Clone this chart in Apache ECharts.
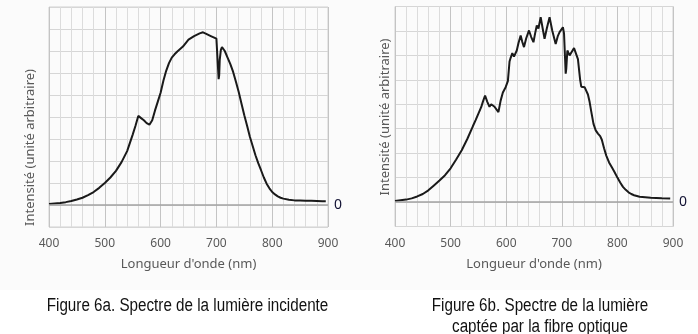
<!DOCTYPE html>
<html>
<head>
<meta charset="utf-8">
<script src="https://cdn.jsdelivr.net/npm/echarts@6/dist/echarts.min.js"></script>
<style>
  html, body { margin: 0; padding: 0; background: #ffffff; }
  #chart { width: 698px; height: 334px; }
</style>
</head>
<body>
<div id="chart"></div>
<script>
// Figure 6a: incident light spectrum (wavelength in nm, arbitrary intensity)
const waveA = [400, 410, 420, 430, 440, 450, 460, 470, 480, 490, 500, 510, 520, 530, 540, 550, 555, 560, 565, 570, 575, 580, 585, 590, 595, 600, 605, 610, 615, 620, 625, 630, 640, 650, 660, 670, 676, 680, 690, 700, 703, 704, 705, 706, 708, 710, 715, 720, 725, 730, 735, 740, 745, 750, 755, 760, 765, 770, 775, 780, 785, 790, 795, 800, 805, 810, 815, 820, 830, 840, 850, 860, 870, 880, 890, 896];
const intensA = [0.05, 0.07, 0.09, 0.13, 0.18, 0.25, 0.33, 0.45, 0.59, 0.78, 1.0, 1.25, 1.55, 1.95, 2.45, 3.2, 3.6, 4.05, 3.95, 3.85, 3.72, 3.65, 3.85, 4.3, 4.7, 5.1, 5.65, 6.1, 6.45, 6.7, 6.85, 6.98, 7.2, 7.52, 7.68, 7.8, 7.85, 7.8, 7.68, 7.56, 7.5, 5.72, 5.9, 6.6, 7.05, 7.18, 7.0, 6.7, 6.4, 6.05, 5.6, 5.14, 4.6, 4.08, 3.6, 3.1, 2.68, 2.26, 1.9, 1.58, 1.25, 0.97, 0.76, 0.59, 0.48, 0.39, 0.33, 0.29, 0.24, 0.21, 0.2, 0.19, 0.19, 0.18, 0.17, 0.17];

// Figure 6b: spectrum collected by the optical fibre
const waveB = [400, 410, 420, 430, 440, 450, 460, 470, 480, 490, 500, 510, 520, 530, 540, 545, 550, 555, 558, 562, 566, 570, 573, 576, 579, 582, 586, 590, 594, 599, 603, 606, 608, 611, 614, 616, 619, 622, 626, 629, 632, 636, 641, 645, 649, 652, 655, 658, 662, 666, 669, 673, 678, 683, 689, 693, 696, 699, 702, 704, 706, 707, 708, 710, 712, 714, 718, 722, 725, 729, 733, 735, 738, 741, 744, 747, 750, 753, 757, 761, 765, 769, 772, 776, 780, 785, 790, 795, 800, 805, 810, 815, 820, 825, 830, 840, 850, 860, 870, 880, 895];
const intensB = [0.04, 0.07, 0.1, 0.15, 0.23, 0.33, 0.48, 0.68, 0.88, 1.1, 1.38, 1.74, 2.12, 2.58, 3.1, 3.35, 3.62, 3.88, 4.1, 4.36, 4.1, 3.9, 4.0, 4.03, 3.9, 3.82, 3.68, 4.15, 4.48, 4.7, 4.95, 5.75, 5.9, 6.09, 5.95, 5.93, 6.2, 6.5, 6.81, 6.55, 6.34, 6.7, 7.02, 6.75, 6.54, 6.9, 7.22, 7.1, 7.56, 7.05, 6.68, 7.1, 7.56, 7.0, 6.47, 6.8, 6.95, 6.9, 7.15, 6.9, 5.8, 5.25, 5.45, 6.2, 6.1, 6.0, 6.15, 6.3, 6.34, 5.85, 5.0, 4.72, 4.68, 4.7, 4.62, 4.4, 4.1, 3.7, 3.2, 2.93, 2.8, 2.7, 2.55, 2.2, 1.9, 1.62, 1.42, 1.22, 1.0, 0.8, 0.62, 0.5, 0.4, 0.33, 0.28, 0.22, 0.2, 0.18, 0.17, 0.16, 0.15];

const xTicks = [400, 500, 600, 700, 800, 900];
const xTitle = "Longueur d'onde (nm)";
const yTitle = 'Intensité (unité arbitraire)';
const captionA = 'Figure 6a. Spectre de la lumière incidente';
const captionB = ['Figure 6b. Spectre de la lumière', 'captée par la fibre optique'];

const zip = (xs, ys) => xs.map((x, i) => [x, ys[i]]);

const labelFont = 'Noto Sans';
const axisGray = '#595959';
const captionFont = '18px "Liberation Sans", Arial, sans-serif';
const captionSquash = 0.845;

// Grid every 20 nm; every fifth line (the 100 nm ones) a shade darker and labelled.
function xAxisFor(gridIndex) {
  return {
    type: 'value', gridIndex, min: xTicks[0], max: xTicks[xTicks.length - 1], interval: 20,
    name: xTitle, nameLocation: 'middle', nameGap: 31,
    nameTextStyle: { color: axisGray, fontFamily: labelFont, fontSize: 13 },
    axisLine: { show: false }, axisTick: { show: false },
    axisLabel: {
      color: axisGray, fontFamily: labelFont, fontSize: 12, margin: 11, hideOverlap: false,
      formatter: v => (xTicks.includes(v) ? String(v) : '')
    },
    splitLine: { show: true, lineStyle: { color: ['#c4c4c4', '#dcdcdc', '#dcdcdc', '#dcdcdc', '#dcdcdc'], width: 1 } }
  };
}

function yAxisFor(gridIndex, max) {
  return {
    type: 'value', gridIndex, min: -1, max, interval: 1,
    axisLine: { show: false }, axisTick: { show: false }, axisLabel: { show: false },
    splitLine: { show: true, lineStyle: { color: '#d6d6d6', width: 1 } }
  };
}

function spectrum(idx, data) {
  return {
    type: 'line', xAxisIndex: idx, yAxisIndex: idx, data,
    showSymbol: false, smooth: false, animation: false,
    lineStyle: { color: '#1a1a1a', width: 2 },
    markLine: {
      silent: true, symbol: 'none', animation: false,
      lineStyle: { color: '#a3a3a3', width: 1.5, type: 'solid' },
      label: { show: true, position: 'end', formatter: '0', color: '#111133', fontFamily: labelFont, fontSize: 14, distance: 6 },
      data: [{ yAxis: 0 }]
    }
  };
}

function caption(text, x, y) {
  return { type: 'text', x, y, scaleX: captionSquash, silent: true,
    style: { text, fill: '#111111', font: captionFont, align: 'center', verticalAlign: 'middle' } };
}

const chart = echarts.init(document.getElementById('chart'), null, { renderer: 'canvas' });
chart.setOption({
  backgroundColor: '#ffffff',
  animation: false,
  grid: [
    { left: 49, top: 7, width: 279, height: 220, show: true, borderColor: '#d0d0d0', borderWidth: 1, backgroundColor: 'transparent' },
    { left: 395, top: 6.5, width: 278, height: 220, show: true, borderColor: '#d0d0d0', borderWidth: 1, backgroundColor: 'transparent' }
  ],
  xAxis: [xAxisFor(0), xAxisFor(1)],
  yAxis: [yAxisFor(0, 9), yAxisFor(1, 8)],
  series: [spectrum(0, zip(waveA, intensA)), spectrum(1, zip(waveB, intensB))],
  graphic: [
    { type: 'rect', z: -10, silent: true, shape: { x: 0, y: 0, width: 698, height: 290 }, style: { fill: '#fbfbfb' } },
    { type: 'text', x: 30, y: 147.5, rotation: Math.PI / 2, silent: true,
      style: { text: yTitle, fill: axisGray, font: '13px "Noto Sans"', align: 'center', verticalAlign: 'middle' } },
    { type: 'text', x: 385, y: 117, rotation: Math.PI / 2, silent: true,
      style: { text: yTitle, fill: axisGray, font: '13px "Noto Sans"', align: 'center', verticalAlign: 'middle' } },
    caption(captionA, 187.5, 306),
    caption(captionB[0], 540, 306),
    caption(captionB[1], 540, 327)
  ]
});
</script>
</body>
</html>
